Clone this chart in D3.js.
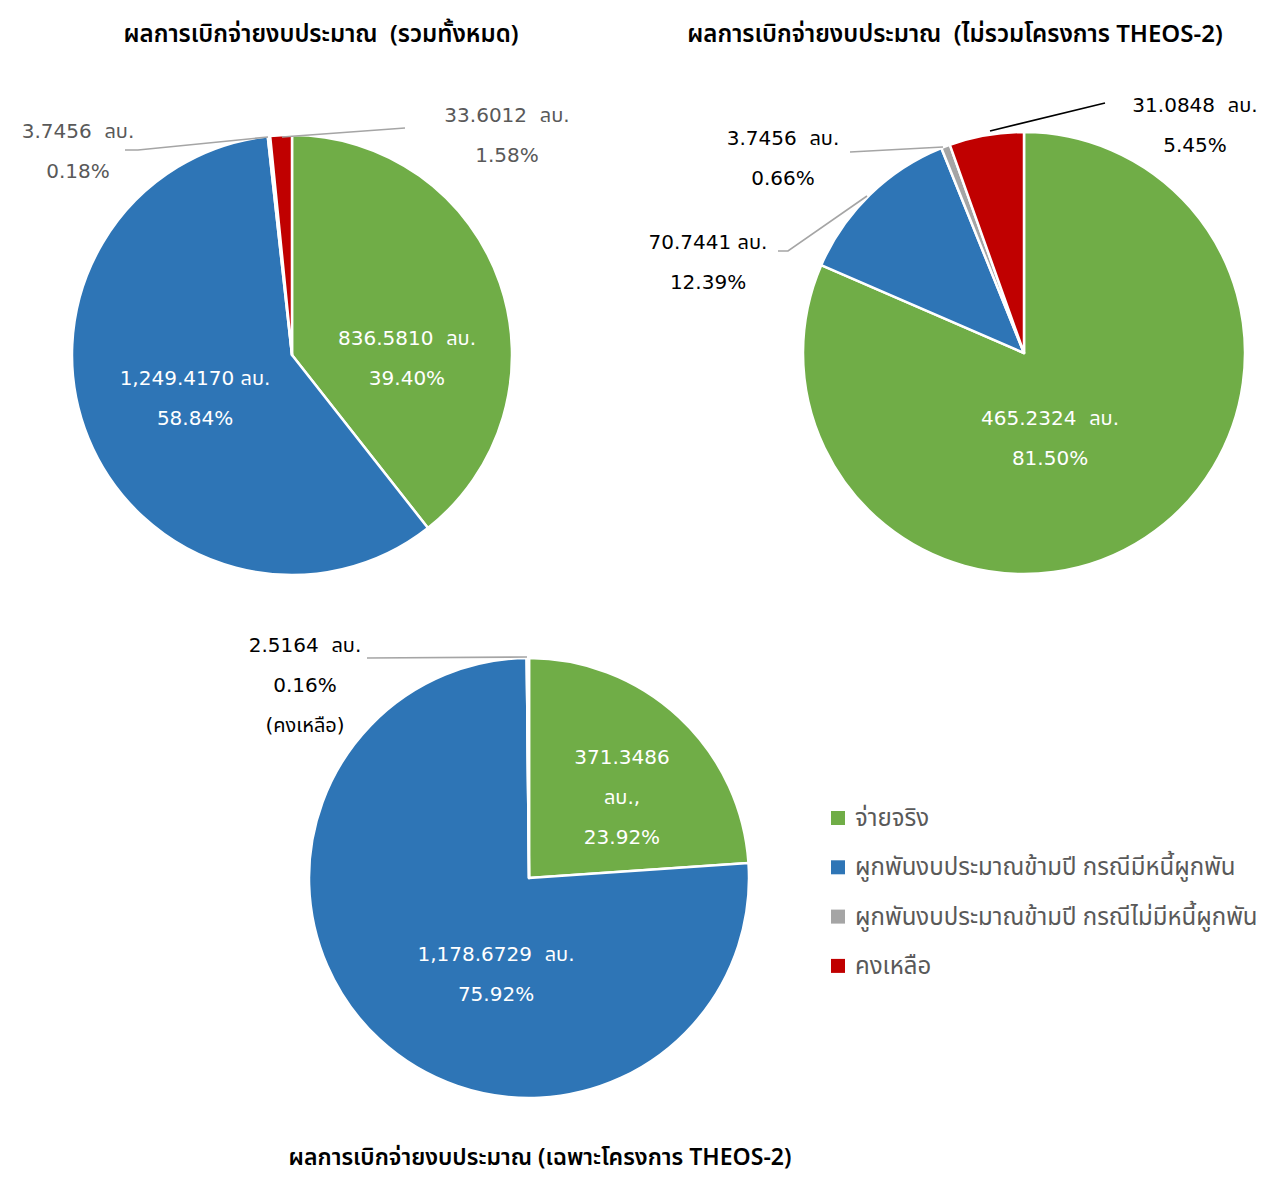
<!DOCTYPE html>
<html lang="th">
<head>
<meta charset="utf-8">
<title>ผลการเบิกจ่ายงบประมาณ</title>
<style>
  body { margin: 0; background: #fff; }
  svg text { font-family: "Noto Sans Thai", "Leelawadee UI", Tahoma, "Noto Sans", sans-serif; white-space: pre; }
  svg text.num { font-family: "DejaVu Sans", "Noto Sans Thai", Tahoma, sans-serif; }
</style>
</head>
<body>
<script src="https://cdnjs.cloudflare.com/ajax/libs/d3/7.8.5/d3.min.js"></script>
<script>
// categories + colours
const categories = ["จ่ายจริง", "ผูกพันงบประมาณข้ามปี กรณีมีหนี้ผูกพัน", "ผูกพันงบประมาณข้ามปี กรณีไม่มีหนี้ผูกพัน", "คงเหลือ"];
const colors = ["#70ad47", "#2e75b6", "#a5a5a5", "#c00000"];

// chart 1: รวมทั้งหมด
const totalValues = [836.5810, 1249.4170, 3.7456, 33.6012];
const totalLabels = [["836.5810  ลบ.", "39.40%"], ["1,249.4170 ลบ.", "58.84%"], ["3.7456  ลบ.", "0.18%"], ["33.6012  ลบ.", "1.58%"]];

// chart 2: ไม่รวมโครงการ THEOS-2
const exclValues = [465.2324, 70.7441, 3.7456, 31.0848];
const exclLabels = [["465.2324  ลบ.", "81.50%"], ["70.7441 ลบ.", "12.39%"], ["3.7456  ลบ.", "0.66%"], ["31.0848  ลบ.", "5.45%"]];

// chart 3: เฉพาะโครงการ THEOS-2
const theosValues = [371.3486, 1178.6729, 0, 2.5164];
const theosLabels = [["371.3486", "ลบ.,", "23.92%"], ["1,178.6729  ลบ.", "75.92%"], null, ["2.5164  ลบ.", "0.16%", "(คงเหลือ)"]];

const width = 1275, height = 1178;
const svg = d3.select("body").append("svg")
  .attr("width", width)
  .attr("height", height);

// label placement (first line centre, offset from pie centre), leader line points
const charts = [
  {
    title: "ผลการเบิกจ่ายงบประมาณ  (รวมทั้งหมด)", tx: 321, ty: 42, tsize: 24,
    cx: 292, cy: 355, r: 220, values: totalValues, labels: totalLabels, labelColor: "#595959",
    pos: [[115, -17], [-97, 23], [-214, -224], [215, -240]],
    inside: [true, true, false, false],
    leaders: [null, null, { pts: [[125, 150], [138, 150], [268, 137]], c: "#a5a5a5" }, { pts: [[282, 137], [405, 128]], c: "#a5a5a5" }]
  },
  {
    title: "ผลการเบิกจ่ายงบประมาณ  (ไม่รวมโครงการ THEOS-2)", tx: 955, ty: 42, tsize: 24,
    cx: 1024, cy: 353, r: 221, values: exclValues, labels: exclLabels, labelColor: "#000",
    pos: [[26, 65], [-316, -111], [-241, -215], [171, -248]],
    inside: [true, false, false, false],
    leaders: [null, { pts: [[778, 251], [788, 251], [867, 196]], c: "#a5a5a5" }, { pts: [[850, 152], [943, 147]], c: "#a5a5a5" }, { pts: [[990, 131], [1105, 103]], c: "#000" }]
  },
  {
    title: "ผลการเบิกจ่ายงบประมาณ (เฉพาะโครงการ THEOS-2)", tx: 540, ty: 1165, tsize: 23,
    cx: 529, cy: 878, r: 220, values: theosValues, labels: theosLabels, labelColor: "#000",
    pos: [[93, -121], [-33, 76], null, [-224, -233]],
    inside: [true, true, false, false],
    leaders: [null, null, null, { pts: [[367, 658], [527, 657]], c: "#a5a5a5" }]
  }
];

const pie = d3.pie().sort(null).value(d => d);

charts.forEach(ch => {
  svg.append("text")
    .attr("x", ch.tx)
    .attr("y", ch.ty)
    .attr("text-anchor", "middle")
    .attr("font-size", ch.tsize)
    .attr("font-weight", 600)
    .attr("fill", "#000")
    .text(ch.title);

  const arc = d3.arc().innerRadius(0).outerRadius(ch.r);
  const g = svg.append("g").attr("transform", `translate(${ch.cx},${ch.cy})`);

  g.selectAll("path")
    .data(pie(ch.values))
    .enter()
    .append("path")
    .attr("d", arc)
    .attr("fill", (d, i) => colors[i])
    .attr("stroke", "#fff")
    .attr("stroke-width", 2.5)
    .attr("stroke-linejoin", "round");

  // leader lines
  ch.leaders.forEach(l => {
    if (!l) return;
    svg.append("path")
      .attr("d", d3.line()(l.pts))
      .attr("fill", "none")
      .attr("stroke", l.c)
      .attr("stroke-width", 1.6);
  });

  // labels
  ch.labels.forEach((lines, i) => {
    if (!lines) return;
    const p = ch.pos[i];
    const t = g.append("text")
      .attr("class", "num")
      .attr("text-anchor", "middle")
      .attr("font-size", 20)
      .attr("fill", ch.inside[i] ? "#fff" : ch.labelColor);
    lines.forEach((s, k) => {
      t.append("tspan")
        .attr("x", p[0])
        .attr("y", p[1] + k * 40 + 7)
        .text(s);
    });
  });
});

// legend
const legend = svg.append("g").attr("transform", "translate(831, 818)");
const items = legend.selectAll("g")
  .data(categories)
  .enter()
  .append("g")
  .attr("transform", (d, i) => `translate(0, ${i * 49.3})`);
items.append("rect")
  .attr("x", 0).attr("y", -7)
  .attr("width", 14).attr("height", 14)
  .attr("fill", (d, i) => colors[i]);
items.append("text")
  .attr("x", 24).attr("y", 8)
  .attr("font-size", 24)
  .attr("fill", "#595959")
  .text(d => d);
</script>
</body>
</html>
